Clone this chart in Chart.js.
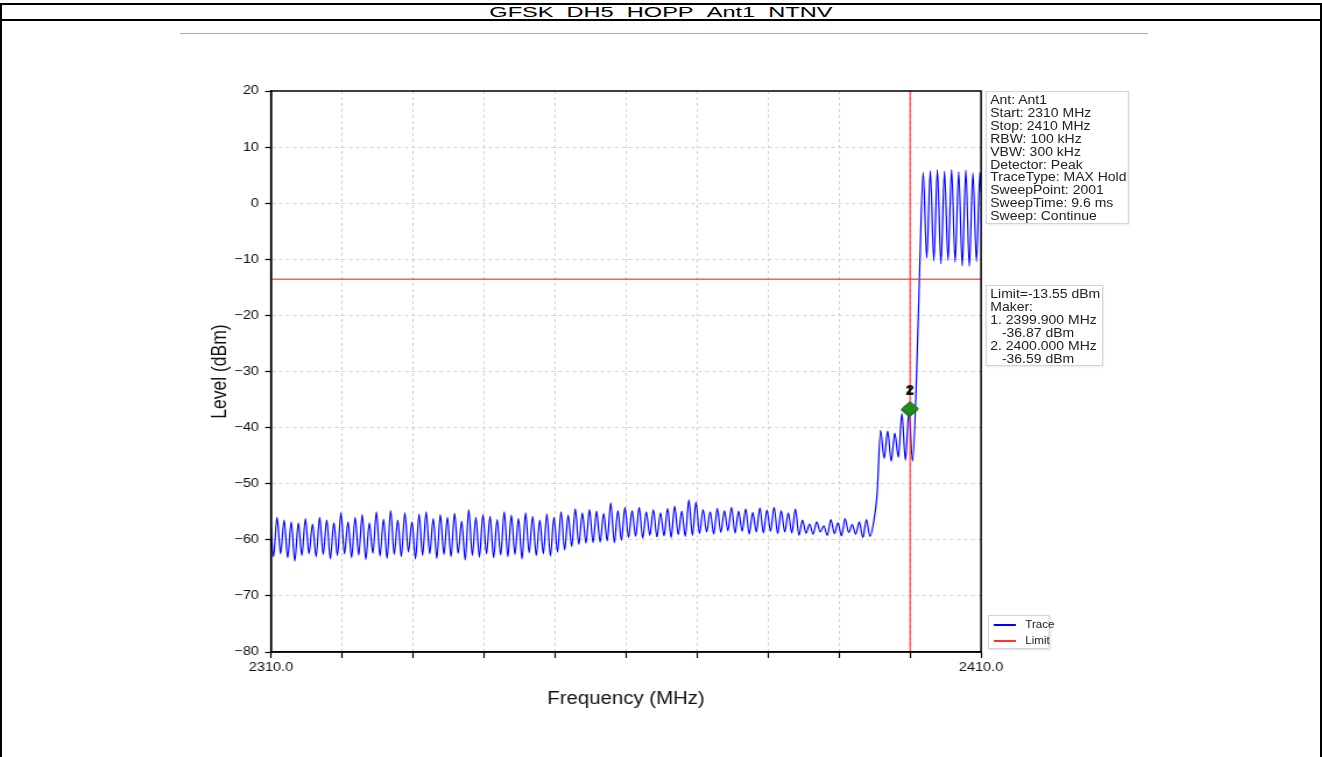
<!DOCTYPE html>
<html>
<head>
<meta charset="utf-8">
<title>GFSK_DH5_HOPP_Ant1_NTNV</title>
<script src="https://cdn.jsdelivr.net/npm/chart.js@4.4.1/dist/chart.umd.min.js"></script>
<style>
body { margin: 0; background: #fff; font-family: "Liberation Sans", Arial, sans-serif; }
#frame { position: absolute; left: 0; top: 3px; width: 1318px; height: 760px; border: 2px solid #000; border-bottom: none; }
#title { height: 14px; border-bottom: 2px solid #000; text-align: center; font-size: 15.5px; line-height: 14px; overflow: visible; }
#title span { display: inline-block; transform: scaleX(1.52); position: relative; top: 0px; }
#imgTop { position: absolute; left: 180px; top: 33px; width: 968px; height: 1px; background: #aaa; }
#stretch { position: absolute; left: 0; top: 0; width: 1135px; height: 757px; transform: scaleX(1.165); transform-origin: 0 0; }
.box { position: absolute; background: #fff; border: 1px solid #d4d4d4; box-shadow: 1px 1px 2px rgba(0,0,0,0.12);
       font-size: 12px; line-height: 12.9px; color: #222; padding: 2px 3px; box-sizing: border-box; white-space: nowrap; }
.ind { padding-left: 10px; }
.leg { font-size: 10px; line-height: 16px; padding: 1px 4px; }
.leg i { display: inline-block; width: 19px; height: 2px; vertical-align: middle; margin-right: 8px; }
</style>
</head>
<body>
<div id="frame"><div id="title"><span>GFSK_DH5_HOPP_Ant1_NTNV</span></div></div>
<div id="imgTop"></div>
<div id="stretch">
  <canvas id="specChart" width="1135" height="757"></canvas>
  <div class="box" style="left:846px; top:91px; width:123px; height:133px;">
    Ant: Ant1<br>Start: 2310 MHz<br>Stop: 2410 MHz<br>RBW: 100 kHz<br>VBW: 300 kHz<br>Detector: Peak<br>TraceType: MAX Hold<br>SweepPoint: 2001<br>SweepTime: 9.6 ms<br>Sweep: Continue
  </div>
  <div class="box" style="left:846px; top:285px; width:101px; height:81px;">
    Limit=-13.55 dBm<br>Maker:<br>1. 2399.900 MHz<br><span class="ind">-36.87 dBm</span><br>2. 2400.000 MHz<br><span class="ind">-36.59 dBm</span>
  </div>
  <div class="box leg" style="left:848px; top:615px; width:53px; height:34px;">
    <i style="background:#0000ff"></i>Trace<br><i style="background:#ff3333"></i>Limit
  </div>
</div>
<script>
// sweep grid (MHz)
const startFreq = 2310;
const stopFreq = 2410;
const gridStart = 2310.35;
const gridStep = 0.5;

// trace: trough / peak of each 1 MHz hop channel, 2310..2394
const troughLow = [
  -63.0, -62.5, -63.2, -63.8, -62.8, -62.5, -63.0, -62.6, -63.4, -62.8,
  -62.5, -63.2, -62.7, -63.5, -62.4, -62.9, -63.3, -62.6, -63.0, -62.2,
  -63.4, -62.8, -62.5, -63.3, -62.6, -63.0, -62.4, -63.6, -62.8, -63.1,
  -62.5, -63.2, -62.7, -63.0, -62.6, -63.4, -62.3, -62.8, -62.5, -62.9,
  -62.2, -61.8, -61.2, -60.8, -60.6, -60.5, -60.4, -60.2, -60.5, -60.1,
  -59.6, -59.4, -59.7, -59.2, -59.5, -59.3, -59.6, -59.1, -59.4, -59.2,
  -58.9, -58.6, -59.0, -58.7, -58.4, -58.8, -58.5, -59.0, -58.6, -58.8,
  -58.5, -58.9, -58.6, -58.8, -59.2, -58.8, -59.0, -58.6, -59.2, -58.9,
  -59.3, -58.7, -59.0, -59.6, -59.4
];
const peakLow = [
  -56.0, -56.5, -56.8, -57.0, -56.2, -57.2, -56.0, -56.5, -57.0, -55.2,
  -56.8, -56.0, -55.5, -57.0, -55.0, -56.3, -54.8, -56.5, -55.2, -56.8,
  -55.4, -55.0, -56.2, -55.5, -56.0, -55.3, -56.7, -54.6, -56.0, -55.5,
  -55.8, -56.4, -55.0, -55.6, -56.2, -55.2, -55.8, -56.5, -55.4, -56.0,
  -55.0, -55.6, -54.5, -55.2, -54.6, -54.9, -55.3, -53.4, -54.8, -54.2,
  -54.8, -54.2, -55.0, -54.6, -55.2, -54.4, -54.0, -54.9, -52.9, -53.3,
  -54.6, -55.0, -54.4, -54.8, -54.2, -54.9, -54.5, -55.1, -54.3, -54.7,
  -54.2, -54.8, -55.2, -54.5, -56.5, -57.2, -56.8, -57.5, -56.4, -57.0,
  -56.2, -57.3, -56.8, -56.4, -57.0
];
// 2395.35 .. 2409.85, every 0.5 MHz
const traceHigh = [
  -52.0, -40.5, -45.5, -40.6, -46.0, -41.0, -45.3, -37.5, -45.8, -36.9,
  -46.0, -33.3, -12.0, 5.5, -9.8, 5.8, -10.3, 6.0, -10.8, 5.7,
  -10.2, 6.0, -10.5, 5.6, -11.2, 5.9, -11.3, 5.4, -10.4, 5.6
];
const startLevel = -58.0;
const stopLevel = 2.0;

const limitLevel = -13.55;
const markerNames = ['1', '2'];
const markerFreq = [2399.9, 2400.0];
const markerLevel = [-36.87, -36.59];
const yTicks = [20, 10, 0, -10, -20, -30, -40, -50, -60, -70, -80];

// build the trace points
let traceLevel = [startLevel];
for (let k = 0; k < troughLow.length; k++) {
    traceLevel.push(troughLow[k]);
    traceLevel.push(peakLow[k]);
}
traceLevel = traceLevel.concat(traceHigh);
traceLevel.push(stopLevel);

let tracePoints = traceLevel.map(function (lvl, i) {
    let f;
    if (i === 0) f = startFreq;
    else if (i === traceLevel.length - 1) f = stopFreq;
    else f = gridStart + gridStep * (i - 1);
    return { x: f, y: lvl };
});

const frameAndLabels = {
    id: 'frameAndLabels',
    afterDraw(chart) {
        const ctx = chart.ctx;
        const ca = chart.chartArea;
        const xs = chart.scales.x, ys = chart.scales.y;
        ctx.save();
        ctx.font = 'bold 13px "Liberation Sans", Arial';
        ctx.fillStyle = '#111';
        ctx.textAlign = 'center';
        ctx.textBaseline = 'bottom';
        markerNames.forEach(function (n, i) {
            ctx.fillText(n, xs.getPixelForValue(markerFreq[i]), ys.getPixelForValue(markerLevel[i]) - 12);
        });
        ctx.strokeStyle = '#000';
        ctx.lineWidth = 1.5;
        ctx.strokeRect(ca.left, ca.top, ca.right - ca.left, ca.bottom - ca.top);
        ctx.restore();
    }
};

function gridColor(c) {
    const v = c.tick ? c.tick.value : null;
    if (v === 2310 || v === 2410 || v === 20 || v === -80) return 'rgba(0,0,0,0)';
    return '#c4c4c4';
}

let ctx = document.getElementById('specChart').getContext('2d');
let specChart = new Chart(ctx, {
    type: 'line',
    data: {
        datasets: [
            {
                label: 'Marker',
                data: markerFreq.map((f, i) => ({ x: f, y: markerLevel[i] })),
                showLine: false,
                pointStyle: 'rectRot',
                pointRadius: 7,
                backgroundColor: '#228b22',
                borderColor: '#1a6e1a',
                borderWidth: 1,
            },
            {
                label: 'MarkerLine',
                data: [{ x: markerFreq[1], y: -80 }, { x: markerFreq[1], y: 20 }],
                borderColor: 'rgba(255,40,40,0.75)',
                borderWidth: 1.4,
                pointRadius: 0,
            },
            {
                label: 'Limit',
                data: [{ x: startFreq, y: limitLevel }, { x: stopFreq, y: limitLevel }],
                borderColor: 'rgba(255,40,40,0.75)',
                borderWidth: 1.4,
                pointRadius: 0,
            },
            {
                label: 'Trace',
                data: tracePoints,
                borderColor: '#0000ff',
                borderWidth: 1.2,
                pointRadius: 0,
                cubicInterpolationMode: 'monotone',
            },
        ],
    },
    options: {
        responsive: false,
        animation: false,
        layout: { padding: { left: 175, right: 292.9, top: 91, bottom: 43.5 } },
        plugins: { legend: { display: false }, tooltip: { enabled: false } },
        scales: {
            x: {
                type: 'linear',
                min: startFreq,
                max: stopFreq,
                afterFit: s => { s.height = 61.5; },
                ticks: {
                    stepSize: 10,
                    autoSkip: false,
                    maxRotation: 0,
                    padding: 2.5,
                    color: '#111',
                    font: { family: '"Liberation Sans", Arial', size: 12.5 },
                    callback: v => (v === startFreq || v === stopFreq) ? v.toFixed(1) : '',
                },
                grid: { color: gridColor, lineWidth: 0.8, tickColor: '#000', tickLength: 6, tickWidth: 1.2 },
                border: { color: '#000', width: 1.5, dash: [3, 3] },
                title: {
                    display: true,
                    text: 'Frequency (MHz)',
                    color: '#111',
                    font: { family: '"Liberation Sans", Arial', size: 17.5 },
                },
            },
            y: {
                type: 'linear',
                min: -80,
                max: 20,
                afterFit: s => { s.width = 57.6; },
                afterBuildTicks: s => { s.ticks = yTicks.map(v => ({ value: v })); },
                ticks: {
                    padding: 5.3,
                    color: '#111',
                    font: { family: '"Liberation Sans", Arial', size: 12.5 },
                    callback: v => v < 0 ? '\u2212' + Math.abs(v) : String(v),
                },
                grid: { color: gridColor, lineWidth: 0.8, tickColor: '#000', tickLength: 5, tickWidth: 1.2 },
                border: { color: '#000', width: 1.5, dash: [3, 3] },
                title: {
                    display: true,
                    text: 'Level (dBm)',
                    color: '#111',
                    font: { family: '"Liberation Sans", Arial', size: 17.5 },
                },
            },
        },
    },
    plugins: [frameAndLabels],
});
</script>
</body>
</html>
